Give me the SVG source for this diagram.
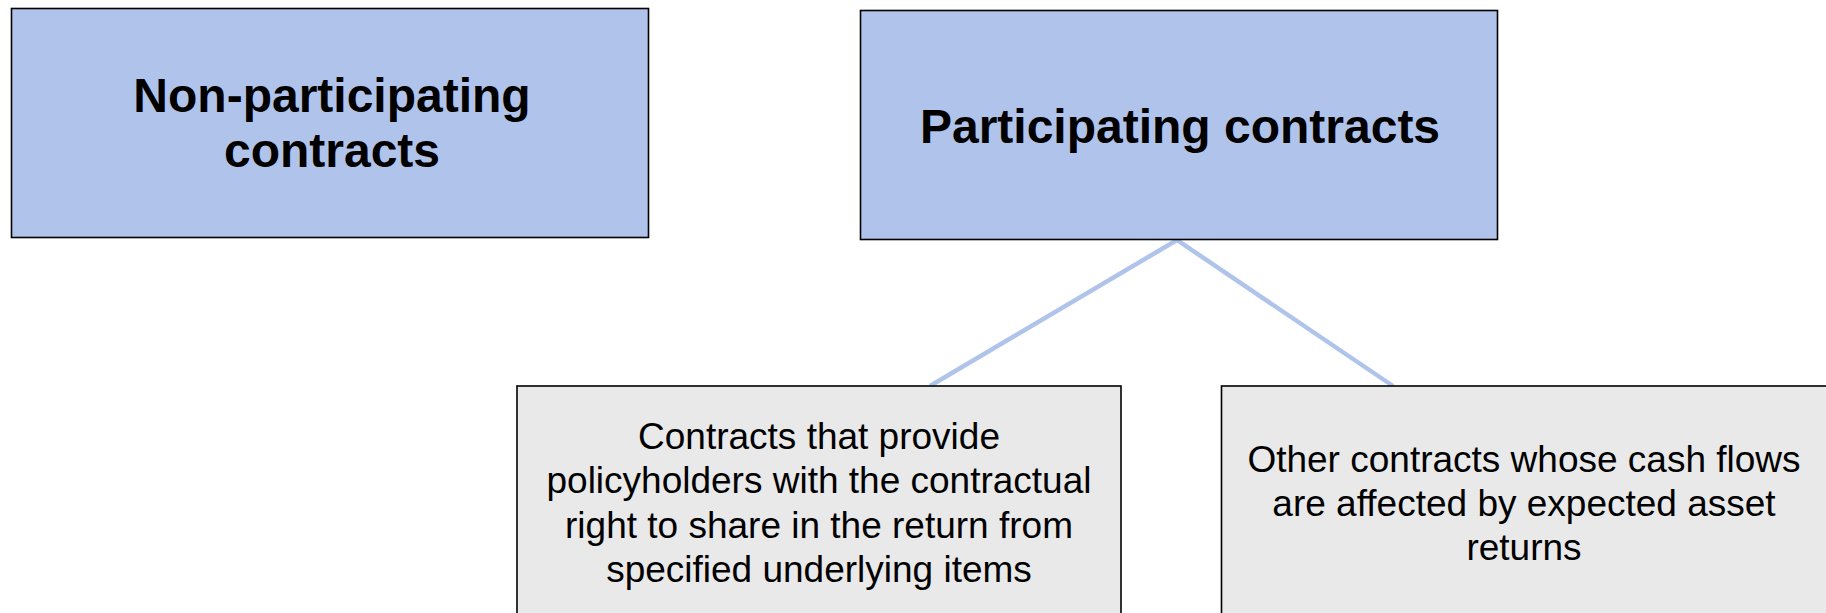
<svg xmlns="http://www.w3.org/2000/svg" width="1826" height="613" viewBox="0 0 1826 613">
<style>
.blue{fill:#b0c4eb;stroke:#000;stroke-width:1.6}
.gray{fill:#e9e9e9;stroke:#000;stroke-width:1.6}
.big{font-family:"Liberation Sans",Arial,sans-serif;font-weight:bold;font-size:48px;fill:#000;text-anchor:middle}
.small{font-family:"Liberation Sans",Arial,sans-serif;font-size:37px;fill:#000;text-anchor:middle}
.conn{stroke:#b0c4eb;stroke-width:4.5;fill:none}
</style>
<rect width="1826" height="613" fill="#fff"/>
<g id="connectors">
<line class="conn" x1="1177" y1="240" x2="930" y2="386"/>
<line class="conn" x1="1177" y1="240" x2="1393" y2="386"/>
</g>
<g id="non-participating">
<rect class="blue" x="11.5" y="8.5" width="637" height="229"/>
<text class="big" x="332" y="111.5">Non-participating</text>
<text class="big" x="332" y="167">contracts</text>
</g>
<g id="participating">
<rect class="blue" x="860.5" y="10.5" width="637" height="229"/>
<text class="big" x="1180" y="143.3">Participating contracts</text>
</g>
<g id="specified-items">
<rect class="gray" x="517" y="386" width="604" height="240"/>
<text class="small" x="819" y="449.3">Contracts that provide</text>
<text class="small" x="819" y="493.4">policyholders with the contractual</text>
<text class="small" x="819" y="537.5">right to share in the return from</text>
<text class="small" x="819" y="581.6">specified underlying items</text>
</g>
<g id="other-contracts">
<rect class="gray" x="1221.5" y="386" width="610" height="240"/>
<text class="small" x="1524" y="471.7">Other contracts whose cash flows</text>
<text class="small" x="1524" y="515.7">are affected by expected asset</text>
<text class="small" x="1524" y="559.7">returns</text>
</g>
</svg>
